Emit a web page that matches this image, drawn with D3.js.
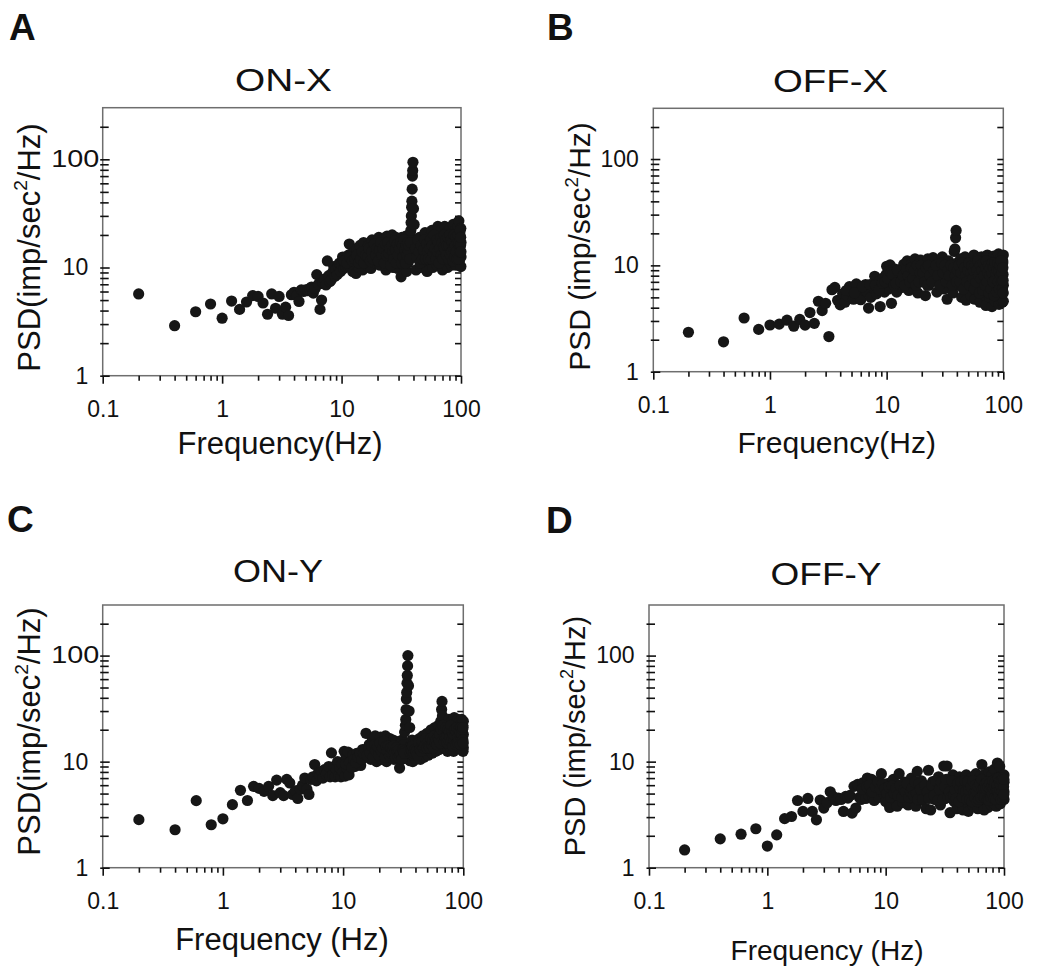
<!DOCTYPE html>
<html><head><meta charset="utf-8">
<script src="https://cdn.jsdelivr.net/npm/d3@7"></script>
<style>
body{margin:0;background:#fff}
svg{display:block}
</style>
</head><body>
<svg id="chart" width="1050" height="968"></svg>
<script>
// ---------- data ----------
const panelLetters = ["A","B","C","D"];
const panelTitles = ["ON-X","OFF-X","ON-Y","OFF-Y"];
const xTitles = ["Frequency(Hz)","Frequency(Hz)","Frequency (Hz)","Frequency (Hz)"];
const yTitleMain = ["PSD(imp/sec","PSD (imp/sec","PSD(imp/sec","PSD (imp/sec"];
const yTitleSup = "2";
const yTitleTail = "/Hz)";
const xMajorTicks = [0.1,1,10,100];
const xTickLabels = ["0.1","1","10","100"];
const xMinorTicks = [0.2,0.3,0.4,0.5,0.6,0.7,0.8,0.9,2,3,4,5,6,7,8,9,20,30,40,50,60,70,80,90];
const yMajorTicks = [1,10,100];
const yTickLabels = ["1","10","100"];
const yMinorTicks = [2,3,4,5,6,7,8,9,20,30,40,50,60,70,80,90,200];

// [frequency (Hz), PSD]  — ON-X
const onX = [[0.2,5.7],[0.4,2.9],[0.6,3.9],[0.8,4.6],[1.0,3.4],[1.2,4.9],[1.4,4.1],[1.6,4.8],[1.8,5.5],[2.0,5.4],[2.2,4.7],[2.4,3.7],[2.6,5.7],[2.8,4.2],[3.0,5.4],[3.2,3.7],[3.4,4.3],[3.6,3.6],[3.8,5.6],[4.0,5.9],[4.2,5.5],[4.4,4.85],[4.6,6.2],[4.8,6.0],[5.0,6.2],[5.2,6.1],[5.4,6.4],[5.6,6.6],[5.8,5.8],[6.0,6.4],[6.2,8.6],[6.4,7.0],[6.6,4.1],[6.8,5.0],[7.0,7.2],[7.2,7.8],[7.4,6.9],[7.6,11.5],[7.8,8.4],[8.0,7.4],[8.2,7.7],[8.4,9.0],[8.6,10.2],[8.8,8.3],[9.0,9.6],[9.2,8.6],[9.4,10.4],[9.6,11.0],[9.8,9.2],[10.0,10.6],
[10.2,12.5],[10.4,9.8],[10.6,11],[10.8,10.2],[11,12],[11.2,10.5],[11.4,13],[11.6,16.5],[11.8,11.5],[12,10],[12.2,13.5],[12.4,9.2],[12.6,12.5],[12.8,14],[13,11],[13.2,8.8],[13.5,15],[13.8,12],[14,10],[14.3,16],[14.6,13.5],[15,9.5],[15.3,17],[15.6,12],[16,14.5],[16.4,10.5],[16.8,16],[17.2,13],[17.6,9.8],[18,18],[18.5,15],[19,11],[19.5,17.5],[20,13.5],[20.5,19],[21,10.5],[21.5,16],[22,12.5],[22.5,18.5],[23,14],[23.5,9.5],[24,19.5],[24.5,15.5],[25,11.5],[25.5,18],[26,13],[26.5,20],[27,10],[27.5,16.5],[28,12.5],[28.5,19],[29,14.5],[29.5,9.8],[30,17.5],[31,12],[31.5,8.2],[32,19],[32.5,14],[33,10.5],[33.5,16.5],[34,12.5],[34.5,19.5],[35,9.2],[35.5,15],[36,11],[36.5,18],[37,13],[37.5,20],[38,22],[38.2,26],[38.4,30],[38.6,36],[38.8,41],[39,53],[39.2,70],[39.4,79],[39.6,94],[40,35],[40.5,25],[41,13],[42,9.5],[43,16],[44,12],[45,19],[46,10],[47,14],[48,17.5],[49,11],[50,21],[51,13.5],[52,9.2],[53,16],[54,19],[55,11.5],[56,14.5],[57,22],[58,10],[59,17],[60,12.5],[61,20],[62,15],[63,10.5],[64,24],[65,13],[66,18],[67,11],[68,22],[69,15.5],[70,9.5],[71,19],[72,13],[73,24],[74,11.5],[75,17],[76,21],[77,10],[78,14],[79,19.5],[80,12],[81,23],[82,16],[83,10.5],[84,20],[85,13.5],[86,25],[87,11],[88,17],[89,14],[90,22],[91,10.5],[92,18.5],[93,13],[94,24],[95,15],[96,27],[97,11.5],[98,20],[99,14],[100,17],[99.6,23],[99.8,10.2],[100,12.5]];
const onXBand = [[10.5,11.5],[11.1,11],[11.7,12.5],[12.3,11.5],[12.9,12],[13.4,13],[13.9,11],[14.4,12],[14.9,14],[15.4,11],[15.9,13],[16.6,12.5],[17,15],[17.4,11.5],[17.9,14],[18.3,12],[18.8,16.5],[19.3,13],[19.8,15],[20.3,11.5],[20.8,14.5],[21.3,17],[21.8,13],[22.3,15],[22.8,11],[23.3,16.5],[23.8,13],[24.3,17],[24.8,13.5],[25.3,15],[25.8,10.5],[26.3,16],[26.8,14],[27.3,12],[27.8,17.5],[28.3,14.5],[28.8,11],[29.3,16.5],[29.8,13],[30.5,15],[31.2,17],[31.8,11],[32.3,16],[32.8,12.5],[33.3,18],[33.8,14.5],[34.3,11],[34.8,16],[35.3,13],[35.8,17],[36.3,14],[36.8,16],[37.3,12],[37.8,17],[41.5,15],[42.5,12.5],[43.5,18],[44.5,14],[45.5,11],[46.5,16],[47.5,12],[48.5,14.5],[49.5,18],[50.5,12],[51.5,16.5],[52.5,14],[53.5,12],[54.5,15],[55.5,18],[56.5,12],[57.5,16],[58.5,13.5],[59.5,20],[60.5,15],[61.5,12],[62.5,18],[63.5,14],[64.5,17],[65.5,11],[66.5,15],[67.5,19],[68.5,13],[69.5,17],[70.5,12],[71.5,15.5],[72.5,20],[73.5,15],[74.5,18],[75.5,13],[76.5,16],[77.5,19],[78.5,12],[79.5,16],[80.5,20],[81.5,13],[82.5,18],[83.5,14],[84.5,17],[85.5,11.5],[86.5,15],[87.5,20],[88.5,12.5],[89.5,16],[90.5,19],[91.5,14],[92.5,12],[93.5,17],[94.5,20],[95.5,12],[96.5,17],[97.5,14],[98.5,22],[99.2,16],[99.4,19],[99.9,14]];

// OFF-X
const offX = [[0.2,2.35],[0.4,1.91],[0.6,3.2],[0.8,2.5],[1.0,2.75],[1.2,2.8],[1.4,3.05],[1.6,2.68],[1.8,3.1],[2.0,2.74],[2.2,3.6],[2.4,2.85],[2.6,4.6],[2.8,3.75],[3.0,4.4],[3.2,2.14],[3.4,5.9],[3.6,6.2],[3.8,4.7],[4.0,4.25],[4.2,5.4],[4.4,4.5],[4.6,5.2],[4.8,6.3],[5.0,5.6],[5.2,4.8],[5.5,6.7],[5.8,5.3],[6.0,4.75],[6.3,5.9],[6.6,6.6],[6.8,5.6],[7.0,3.97],[7.3,5.0],[7.6,6.2],[7.9,7.9],[8.2,5.4],[8.5,7.0],[8.8,4.1],[9.0,6.6],[9.3,7.6],[9.6,5.6],[9.9,8.2],
[10,9.8],[10.4,6],[10.7,10.1],[11,4.4],[11.4,7],[11.8,9.2],[12.2,5.6],[12.6,7.8],[13,9],[13.5,6.2],[14,10.2],[14.5,7.2],[15,11],[15.5,5.8],[16,8.6],[16.5,10.5],[17,6.8],[17.5,11.5],[18,8],[18.5,5.5],[19,9.5],[19.5,11.2],[20,7],[21,10],[21.5,5.2],[22,8.8],[22.5,11.5],[23,6.5],[24,9.5],[25,11.8],[26,7.5],[27,5.6],[28,10.5],[29,8.2],[30,12],[31,6],[32,9.5],[33,4.8],[34,11],[35,7.2],[36,9],[37,5.5],[38,13.5],[38.5,14.3],[39,18.2],[39.4,21.3],[40,10.5],[41,6.5],[42,8.5],[43,11.5],[44,5],[45,9.2],[46,7],[47,12],[48,4.7],[49,10],[50,6.2],[51,8],[52,11],[53,5.2],[54,9.5],[55,7],[56,12.5],[57,4.8],[58,8.8],[59,10.5],[60,6],[61,11.8],[62,7.8],[63,4.5],[64,9.8],[65,12],[66,6.8],[67,8.5],[68,5.3],[69,11],[70,7.5],[71,4.2],[72,9.5],[73,12.5],[74,6.5],[75,8.2],[76,10.8],[77,5],[78,7.2],[79,11.5],[80,4.1],[81,9],[82,6.2],[83,12.2],[84,8],[85,4.6],[86,10.2],[87,6.8],[88,11.8],[89,5.4],[90,8.6],[91,12.8],[92,4.3],[93,7.5],[94,10],[95,5.8],[96,12],[97,9],[98,4.5],[99,11],[100,6.5],[99.5,8.2],[100,12.5],[100,4.6],[99,10.5]];
const offXBand = [[4.5,5.8],[5.3,5.5],[6.2,6.3],[7.2,6.6],[8.0,6.5],[8.6,5.9],[9.2,6.8],[9.7,7],[10.2,7.5],[10.5,8.8],[10.9,8.5],[11.2,8.2],[11.6,6.5],[12.0,6.8],[12.4,9],[13.2,7],[13.8,8],[14.3,6.5],[14.8,9],[15.3,8],[15.8,7],[16.3,9.5],[16.8,7.5],[17.3,9],[17.8,6.5],[18.3,10],[18.8,7],[19.3,8.5],[19.8,10],[20.5,8.5],[21.2,7],[21.8,9.5],[22.3,6.5],[22.8,10],[23.5,8],[24.5,7],[25.5,9],[26.5,10],[27.5,8],[28.5,6.5],[29.5,10.5],[30.5,8.5],[31.5,10],[32.5,7],[33.5,9],[34.5,8],[35.5,10],[36.5,6.5],[37.5,9.5],[38.8,8],[39.7,7],[40.5,9],[41.5,10],[42.5,7],[43.5,8.5],[44.5,10.5],[45.5,6],[46.5,9.5],[47.5,8],[48.5,7],[49.5,9],[50.5,10.5],[51.5,6.5],[52.5,8.5],[53.5,10],[54.5,7.5],[55.5,9],[56.5,6],[57.5,10],[58.5,7],[59.5,9],[60.5,11],[61.5,8],[62.5,5.5],[63.5,10],[64.5,7.5],[65.5,9],[66.5,5.8],[67.5,10.5],[68.5,8],[69.5,6.5],[70.5,9.5],[71.5,11],[72.5,7],[73.5,8.5],[74.5,10],[75.5,5.5],[76.5,8],[77.5,9.5],[78.5,6],[79.5,8.5],[80.5,10.5],[81.5,7],[82.5,9.5],[83.5,5.2],[84.5,10.5],[85.5,7.5],[86.5,8.5],[87.5,5.6],[88.5,9],[89.5,10.5],[90.5,7],[91.5,8.8],[92.5,6],[93.5,10],[94.5,8],[95.5,11],[96.5,7],[97.5,8.5],[98.5,6],[99.2,9.5],[99.7,7.2],[99.9,5.5]];

// ON-Y
const onY = [[0.2,2.84],[0.4,2.28],[0.6,4.29],[0.8,2.54],[1.0,2.89],[1.2,3.93],[1.4,5.37],[1.6,4.3],[1.8,5.85],[2.0,5.6],[2.2,5.25],[2.4,5.85],[2.6,4.78],[2.8,6.7],[3.0,5.1],[3.2,4.78],[3.4,6.8],[3.6,6.3],[3.8,4.9],[4.0,5.3],[4.2,4.5],[4.4,5.5],[4.6,6.0],[4.8,7.0],[5.0,5.5],[5.2,4.9],[5.4,6.8],[5.6,7.2],[5.8,9.4],[6.0,6.6],[6.2,7.8],[6.4,7.3],[6.6,8.1],[6.8,7.0],[7.0,8.4],[7.2,7.6],[7.4,8.0],[7.6,9.0],[7.8,7.2],[8.0,12.1],
[8.2,7.5],[8.4,9],[8.6,7.2],[8.8,8.5],[9,10],[9.2,7.4],[9.4,8.8],[9.6,7.2],[9.8,9.5],[10,8],[10.2,12.5],[10.4,7.3],[10.6,11],[10.8,8.6],[11,12.3],[11.2,7.5],[11.5,10],[12,11.5],[12.5,9],[13,12],[13.5,10],[14,9.2],[14.5,13],[15,11],[15.5,18.5],[16,12.5],[16.5,14.5],[17,10.5],[17.5,16.5],[18,12],[18.5,17.5],[19,10],[19.5,15],[20,13],[20.5,17],[21,10.5],[21.5,14.5],[22,12],[22.5,17.5],[23,10],[23.5,15.5],[24,12.5],[24.5,16.5],[25,11],[25.5,14],[26,16],[26.5,10.5],[27,13],[27.5,15.5],[28,11.5],[28.5,14],[29,12.5],[29.5,8.7],[30,10.5],[30.5,13.5],[31,16],[31.5,11.5],[32,14.5],[32.5,19],[33,22],[33.2,25],[33.4,31],[33.6,39],[33.8,45],[34,55],[34.2,65],[34.4,80],[34.6,100],[35,52],[35.4,30],[35.8,21],[36,10.2],[36.5,14],[37,11],[37.5,16],[38,10],[38.5,13],[39,15.5],[40,10.5],[41,14],[42,12],[43,16.5],[44,10.5],[45,13.5],[46,17.5],[47,11],[48,15],[49,12.5],[50,18.5],[51,11.5],[52,16],[53,13],[54,20],[55,12],[56,17],[57,14],[58,21],[59,12.5],[60,18],[61,15],[62,22],[63,13],[64,19],[65,24],[66,31],[66.5,37],[67,27],[68,16],[69,21],[70,13.5],[71,19],[72,15],[73,23],[74,12.5],[75,18],[76,25],[77,14],[78,20],[79,13],[80,24],[81,16.5],[82,21],[83,12.5],[84,26],[85,15],[86,19.5],[87,23],[88,13.5],[89,18],[90,25],[91,14],[92,21],[93,16],[94,24],[95,13],[96,19],[97,25],[98,15],[99,22],[100,18],[100,13.5],[100,24],[99.5,12.5]];
const onYBand = [[10.5,9.5],[11.3,9.8],[11.8,8.8],[12.3,10.5],[12.8,9.8],[13.3,11],[13.8,12],[14.3,10.5],[14.8,12],[15.3,13],[15.8,11.5],[16.3,13.5],[16.8,12],[17.3,14],[17.8,11],[18.3,14.5],[18.8,12.5],[19.3,14],[19.8,11.5],[20.3,15],[20.8,12.5],[21.3,13.5],[21.8,15.5],[22.3,11],[22.8,14],[23.3,12.5],[23.8,14],[24.3,11.5],[24.8,13.5],[25.3,12],[25.8,13],[26.3,14],[26.8,12],[27.3,11],[27.8,13.5],[28.3,12.5],[28.8,11],[29.2,13],[29.8,11.5],[30.2,12],[30.8,10.5],[31.3,13],[31.8,12.5],[32.3,12],[36.3,12],[36.8,13],[37.3,12.5],[37.8,14],[38.3,11.5],[38.8,12],[39.5,13],[40.5,12.5],[41.5,11.5],[42.5,15],[43.5,13],[44.5,12.5],[45.5,15.5],[46.5,13.5],[47.5,14],[48.5,16.5],[49.5,13.5],[50.5,15],[51.5,14],[52.5,13.5],[53.5,16.5],[54.5,14.5],[55.5,15.5],[56.5,13.5],[57.5,17.5],[58.5,15],[59.5,16],[60.5,14.5],[61.5,17],[62.5,16],[63.5,18],[64.5,15],[65.5,20],[67.5,22],[68.5,18.5],[69.5,15.5],[70.5,17],[71.5,21],[72.5,17],[73.5,15],[74.5,20],[75.5,16],[76.5,19],[77.5,17],[78.5,22],[79.5,15.5],[80.5,19],[81.5,14],[82.5,18],[83.5,16],[84.5,20],[85.5,17.5],[86.5,14.5],[87.5,19],[88.5,21],[89.5,15],[90.5,17],[91.5,20],[92.5,16],[93.5,19],[94.5,14.5],[95.5,21],[96.5,16.5],[97.5,18],[98.5,20],[99.2,16],[99.6,21],[99.9,15]];

// OFF-Y
const offY = [[0.2,1.47],[0.4,1.87],[0.6,2.07],[0.8,2.33],[1.0,1.6],[1.2,2.04],[1.4,2.9],[1.6,3.04],[1.8,4.3],[2.0,3.39],[2.2,4.5],[2.4,3.39],[2.6,2.83],[2.8,4.35],[3.0,3.65],[3.2,4.1],[3.4,5.2],[3.6,4.7],[3.8,4.3],[4.0,4.53],[4.2,4.4],[4.4,3.39],[4.6,4.7],[4.8,4.53],[5.0,4.8],[5.2,3.27],[5.4,5.85],[5.6,3.65],[5.8,6.1],[6.0,4.6],[6.2,4.4],[6.4,6.3],[6.6,5.0],[6.8,4.5],[7.0,7.0],[7.2,4.8],[7.4,5.3],[7.6,6.8],[7.8,4.6],
[8,4.3],[8.4,5.5],[8.8,4.6],[9.2,7.7],[9.6,5],[10,4.2],[10.4,6.2],[10.8,3.7],[11.2,5.4],[11.6,6.8],[12,4.4],[12.5,3.8],[13,7.7],[13.5,5.2],[14,4.1],[14.5,6.4],[15,5],[15.5,3.9],[16,5.8],[16.5,7],[17,4.5],[17.5,6],[18,3.8],[18.5,8.1],[19,5.2],[19.5,4.3],[20,6.6],[21,4.8],[22,3.6],[23,8.3],[23.5,5.5],[24,3.5],[25,6.5],[26,4.4],[27,5.8],[28,7.2],[29,3.9],[30,5.2],[31,9.1],[32,4.5],[33,9.1],[34,6.2],[35,3.3],[36,5.5],[37,7.5],[38,4.2],[39,6],[40,3.6],[41,5.2],[42,7.2],[43,4.6],[44,6.6],[45,3.5],[46,5.7],[47,4.2],[48,7.5],[49,5],[50,3.4],[51,6.3],[52,4.7],[53,7],[54,5.5],[55,3.8],[56,6],[57,4.4],[58,7.7],[59,5.1],[60,3.6],[61,6.5],[62,4.8],[63,7.3],[64,5.3],[65,9.4],[66,4],[67,6.2],[68,3.5],[69,7.6],[70,5],[71,4.3],[72,6.8],[73,3.7],[74,5.6],[75,8],[76,4.6],[77,6.3],[78,3.9],[79,7.4],[80,5.2],[81,4.1],[82,6.6],[83,8.5],[84,4.8],[85,5.8],[86,3.8],[87,7],[88,9.7],[89,4.4],[90,6],[91,5.2],[92,9],[93,4],[94,7.2],[95,5.5],[96,4.6],[97,6.8],[98,5.8],[99,4.5],[100,7.5],[100,5.2],[100,6.4],[100,4.4]];
const offYBand = [[6.3,5.5],[6.9,5.8],[7.3,6],[7.7,5.2],[8.2,5.8],[8.6,6.5],[9,5.5],[9.4,6.2],[9.8,5.6],[10.2,5],[10.6,5.8],[11,4.6],[11.4,5.9],[11.8,5],[12.2,5.6],[12.7,4.8],[13.2,6],[13.7,4.6],[14.2,5.4],[14.7,5.2],[15.2,6.2],[15.7,4.6],[16.2,5.2],[16.7,5.6],[17.2,4.8],[17.7,6.4],[18.2,5],[18.7,4.4],[19.2,6.2],[19.7,5.5],[20.5,4.4],[21.5,6],[22.5,5.2],[23.2,4.5],[24.5,6],[25.5,4.8],[26.5,6.6],[27.5,4.3],[28.5,5.5],[29.5,6.4],[30.5,4.4],[31.5,5.8],[32.5,6.8],[33.5,4.6],[34.5,5.2],[35.5,4.6],[36.5,6.6],[37.5,4.8],[38.5,5.4],[39.5,4.5],[40.5,6.2],[41.5,4.2],[42.5,5.6],[43.5,6.4],[44.5,4.6],[45.5,5.4],[46.5,6.6],[47.5,5.2],[48.5,4.4],[49.5,6.5],[50.5,5.3],[51.5,4.4],[52.5,5.8],[53.5,4.2],[54.5,6.6],[55.5,5],[56.5,4.6],[57.5,6],[58.5,5.2],[59.5,4.2],[60.5,5.8],[61.5,4.4],[62.5,6.2],[63.5,4.6],[64.5,6.8],[65.5,5.4],[66.5,4.8],[67.5,5.6],[68.5,4.6],[69.5,6.2],[70.5,5.6],[71.5,6.4],[72.5,4.4],[73.5,5.8],[74.5,4.3],[75.5,6.2],[76.5,5.5],[77.5,4.6],[78.5,5.8],[79.5,5],[80.5,6.6],[81.5,5.6],[82.5,4.5],[83.5,6],[84.5,6.5],[85.5,4.4],[86.5,5.4],[87.5,6],[88.5,5.2],[89.5,7],[90.5,4.8],[91.5,6.5],[92.5,5.4],[93.5,6],[94.5,4.4],[95.5,6.6],[96.5,5.2],[97.5,4.6],[98.5,7],[99.2,5.8],[99.6,4.9],[99.9,6.8]];

const panelData = [onX.concat(onXBand), offX.concat(offXBand), onY.concat(onYBand), offY.concat(offYBand)];

// ---------- layout (styles / positions) ----------
const FONT = '"Liberation Sans", Arial, Helvetica, sans-serif';
const layouts = [
  {l:102.7,t:107.7,r:461,  b:375.7, letter:[9,39.5],   title:[283.5,90.7,97],  xt:[280,454,31],   yt:[39.5,247.5,31], wide100:true},
  {l:653.3,t:108.3,r:1003.3,b:371.7, letter:[547,39.5], title:[830.5,91.7,115], xt:[836.7,453,30], yt:[590,246.5,30],  wide100:false},
  {l:102.7,t:605,  r:463.3,b:867.7, letter:[7,532],    title:[278,581.7,90],   xt:[282,950,31],   yt:[40,731.5,31],   wide100:true},
  {l:649,  t:605,  r:1004, b:867.7, letter:[546,533],  title:[826,585,111],   xt:[827,960,28],   yt:[585,736,29],    wide100:false}
];

const svg = d3.select("#chart");
svg.append("rect").attr("width",1050).attr("height",968).attr("fill","#fff");

layouts.forEach((L, i) => {
  const g = svg.append("g");
  const x = d3.scaleLog().domain([0.1,100]).range([L.l, L.r]);
  const y = d3.scaleLog().domain([1,300]).range([L.b, L.t]);

  g.append("rect").attr("x",L.l).attr("y",L.t).attr("width",L.r-L.l).attr("height",L.b-L.t)
    .attr("fill","none").attr("stroke","#6e6e6e").attr("stroke-width",1.5);

  function styleAxis(sel){
    sel.select(".domain").remove();
    sel.selectAll(".tick line").attr("stroke","#111").attr("stroke-width",1.6);
    sel.attr("font-family",FONT).attr("font-size",23);
    sel.selectAll("text").attr("fill","#111");
  }

  g.append("g").attr("transform",`translate(0,${L.b})`)
    .call(d3.axisBottom(x).tickValues(xMinorTicks).tickSize(5).tickFormat(""))
    .call(styleAxis);
  g.append("g").attr("transform",`translate(0,${L.b})`)
    .call(d3.axisBottom(x).tickValues(xMajorTicks).tickSize(8).tickPadding(16.5)
      .tickFormat((d,k)=>xTickLabels[k]))
    .call(styleAxis);

  g.append("g").attr("transform",`translate(${L.l},0)`)
    .call(d3.axisLeft(y).tickValues(yMinorTicks).tickSize(-6).tickFormat(""))
    .call(styleAxis)
    .call(s=>s.selectAll(".tick line").attr("x1",-2.5));
  const ly = g.append("g").attr("transform",`translate(${L.l},0)`)
    .call(d3.axisLeft(y).tickValues(yMajorTicks).tickSize(-7).tickPadding(14.5)
      .tickFormat((d,k)=>yTickLabels[k]))
    .call(styleAxis)
    .call(s=>s.selectAll(".tick line").attr("x1",-2.5));
  if (L.wide100) {
    ly.selectAll(".tick text").filter(d=>d===100)
      .attr("x",-3.5).attr("textLength",48).attr("lengthAdjust","spacingAndGlyphs");
  }

  g.append("g").attr("transform",`translate(${L.r},0)`)
    .call(d3.axisRight(y).tickValues(yMinorTicks.concat(yMajorTicks)).tickSize(-6).tickFormat(""))
    .call(styleAxis);

  g.append("g").selectAll("circle").data(panelData[i]).join("circle")
    .attr("cx",d=>x(d[0])).attr("cy",d=>y(d[1])).attr("r",5.6)
    .attr("fill","#161616");

  svg.append("text").attr("x",L.letter[0]).attr("y",L.letter[1])
    .attr("font-family",FONT).attr("font-weight","bold").attr("font-size",37)
    .attr("fill","#111").text(panelLetters[i]);

  svg.append("text").attr("x",L.title[0]).attr("y",L.title[1])
    .attr("text-anchor","middle").attr("font-family",FONT).attr("font-size",31)
    .attr("textLength",L.title[2]).attr("lengthAdjust","spacingAndGlyphs")
    .attr("fill","#111").text(panelTitles[i]);

  svg.append("text").attr("x",L.xt[0]).attr("y",L.xt[1])
    .attr("text-anchor","middle").attr("font-family",FONT).attr("font-size",L.xt[2])
    .attr("fill","#111").text(xTitles[i]);

  const fs = L.yt[2];
  const yt = svg.append("text")
    .attr("transform",`translate(${L.yt[0]},${L.yt[1]}) rotate(-90)`)
    .attr("text-anchor","middle").attr("font-family",FONT).attr("font-size",fs)
    .attr("fill","#111");
  yt.append("tspan").text(yTitleMain[i]);
  yt.append("tspan").attr("font-size",fs*0.62).attr("dy",-fs*0.4).text(yTitleSup);
  yt.append("tspan").attr("dy",fs*0.4).text(yTitleTail);
});
</script>
</body></html>
